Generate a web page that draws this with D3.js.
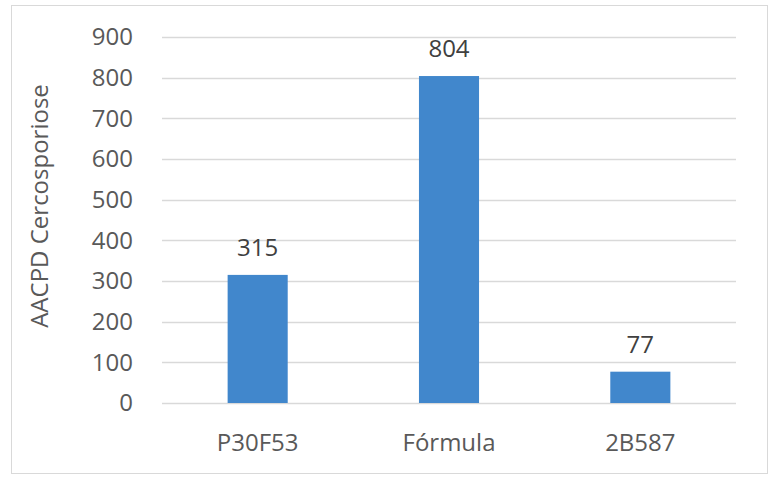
<!DOCTYPE html>
<html><head><meta charset="utf-8">
<script src="https://cdn.jsdelivr.net/npm/d3@7"></script>
<style>body{margin:0;background:#fff;} text{font-family:"Open Sans",sans-serif;}</style>
</head><body>
<svg id="c" width="775" height="482"></svg>
<script>
const categories = ["P30F53", "Fórmula", "2B587"];
const values = [315, 804, 77];
const yTicks = [0, 100, 200, 300, 400, 500, 600, 700, 800, 900];
const yTitle = "AACPD Cercosporiose";

(function () {
const svg = d3.select("#c");
svg.append("rect").attr("x", 11.5).attr("y", 5.5).attr("width", 756).attr("height", 468)
  .attr("fill", "#fff").attr("stroke", "#d9d9d9").attr("stroke-width", 1);

const mLeft = 162, mRight = 736, mTop = 37, mBottom = 403;
const x = d3.scaleBand().domain(categories).range([mLeft, mRight]).paddingInner(0.686).paddingOuter(0.343);
const y = d3.scaleLinear().domain([0, 900]).range([mBottom, mTop]);

svg.append("g").selectAll("line").data(yTicks).join("line")
  .attr("x1", mLeft).attr("x2", mRight)
  .attr("y1", d => Math.round(y(d)) + 0.5).attr("y2", d => Math.round(y(d)) + 0.5)
  .attr("stroke", "#d9d9d9").attr("stroke-width", 1.5);

const yAxis = svg.append("g").attr("transform", `translate(${mLeft},0)`)
  .call(d3.axisLeft(y).tickValues(yTicks).tickSize(0).tickPadding(29));
yAxis.select(".domain").remove();
yAxis.selectAll("text").attr("font-size", 24).attr("fill", "#595959").attr("font-family", "Open Sans");

svg.append("g").selectAll("rect").data(values).join("rect")
  .attr("x", (d, i) => x(categories[i])).attr("width", x.bandwidth())
  .attr("y", d => y(d)).attr("height", d => y(0) - y(d))
  .attr("fill", "#4187cc");

svg.append("g").selectAll("text").data(values).join("text")
  .attr("x", (d, i) => x(categories[i]) + x.bandwidth() / 2)
  .attr("y", d => y(d) - 19)
  .attr("text-anchor", "middle").attr("font-size", 24).attr("fill", "#404040")
  .text(d => d);

const xAxis = svg.append("g").attr("transform", `translate(0,${mBottom})`)
  .call(d3.axisBottom(x).tickSize(0).tickPadding(31));
xAxis.select(".domain").remove();
xAxis.selectAll("text").attr("font-size", 24).attr("fill", "#595959").attr("font-family", "Open Sans");

svg.append("text").attr("transform", "translate(48,206) rotate(-90)")
  .attr("text-anchor", "middle").attr("font-size", 24).attr("fill", "#595959")
  .text(yTitle);
})();
</script>
</body></html>
